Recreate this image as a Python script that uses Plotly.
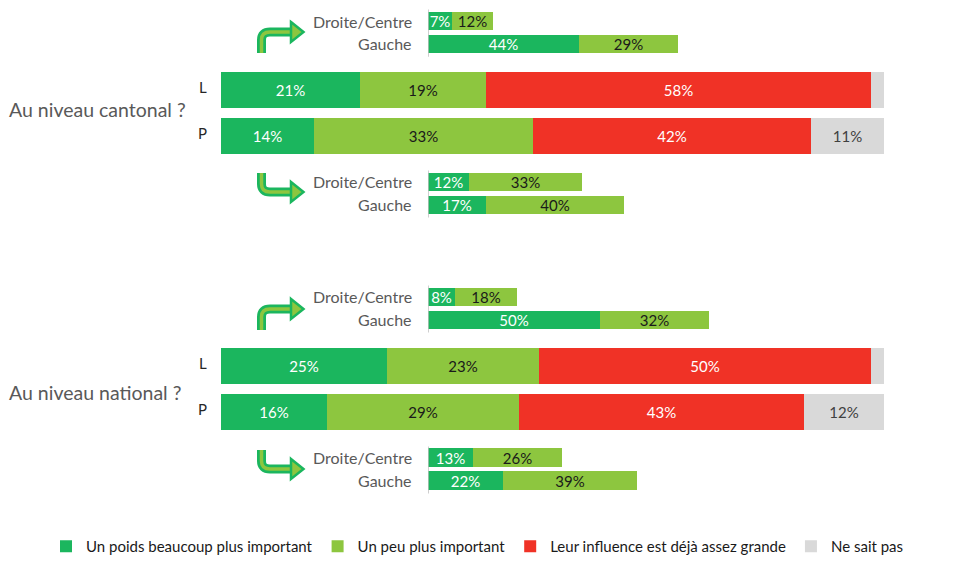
import plotly.graph_objects as go

# ---- data ----
series_names = ["Un poids beaucoup plus important", "Un peu plus important",
                "Leur influence est déjà assez grande", "Ne sait pas"]
main_labels = ["L", "P", "L", "P"]
# per main row: [beaucoup, un peu, déjà assez, ne sait pas]
cantonal_L = [21, 19, 58, 2]
cantonal_P = [14, 33, 42, 11]
national_L = [25, 23, 50, 2]
national_P = [16, 29, 43, 12]

sub_labels = ["Droite/Centre", "Gauche"] * 4
# per sub row: [beaucoup, un peu]
cantonal_top_droite = [7, 12]
cantonal_top_gauche = [44, 29]
cantonal_bot_droite = [12, 33]
cantonal_bot_gauche = [17, 40]
national_top_droite = [8, 18]
national_top_gauche = [50, 32]
national_bot_droite = [13, 26]
national_bot_gauche = [22, 39]

section_labels = ["Au niveau cantonal ?", "Au niveau national ?"]

# ---- layout slots (rows of a 23px grid) ----
main_rows = [cantonal_L, cantonal_P, national_L, national_P]
main_slots = [3, 5, 15, 17]
sub_rows = [cantonal_top_droite, cantonal_top_gauche, cantonal_bot_droite, cantonal_bot_gauche,
            national_top_droite, national_top_gauche, national_bot_droite, national_bot_gauche]
sub_slots = [0, 1, 7, 8, 12, 13, 19, 20]

colors = ["#1BB65E", "#8DC63F", "#F03226", "#D9D9D9"]
text_colors = ["white", "#1a1a1a", "white", "#404040"]
FONT = "Lato"
GREY = "#595959"

fig = go.Figure()

for i, name in enumerate(series_names):
    vals = [row[i] for row in main_rows]
    fig.add_trace(go.Bar(
        x=vals, y=main_slots, orientation="h", name=name,
        marker=dict(color=colors[i], line=dict(width=0)), width=1.6,
        text=[f"{v}%" if v >= 5 else "" for v in vals],
        textposition="inside", insidetextanchor="middle",
        textfont=dict(color=text_colors[i], size=15, family=FONT),
        hoverinfo="skip", xaxis="x", yaxis="y"))

for i in range(2):
    vals = [row[i] for row in sub_rows]
    fig.add_trace(go.Bar(
        x=vals, y=sub_slots, orientation="h", name=series_names[i],
        marker=dict(color=colors[i], line=dict(width=0)), width=0.82,
        text=[f"{v}%" for v in vals],
        textposition="inside", insidetextanchor="middle",
        textfont=dict(color=text_colors[i], size=15, family=FONT),
        showlegend=False, hoverinfo="skip", xaxis="x2", yaxis="y"))

annotations = []
for lab, s in zip(main_labels, main_slots):
    annotations.append(dict(text=lab, xref="paper", x=0, xanchor="right", xshift=-12,
                            yref="y", y=s - 0.12, showarrow=False,
                            font=dict(size=15, color="#262626", family=FONT)))
for lab, s in zip(sub_labels, sub_slots):
    annotations.append(dict(text=lab, xref="x2", x=0, xanchor="right", xshift=-14,
                            yref="y", y=s, showarrow=False,
                            font=dict(size=16, color=GREY, family=FONT)))
for lab, s in zip(section_labels, [3.87, 16.15]):
    annotations.append(dict(text=lab, xref="paper", x=-214 / 663, xanchor="left",
                            yref="y", y=s, showarrow=False,
                            font=dict(size=19.5, color=GREY, family=FONT)))

# decorative arrows + sub-bar axis lines
shapes = []
px = 6.63  # px per % on main axis


def ax(p):
    return (p - 221) / px


def sl(p):
    return (p - 21) / 23


def arrow(up, y0):
    # y0: pixel of the arrow's horizontal stroke
    x_stem = ax(261.5)
    x_end = ax(292)
    if up:
        y_tail = y0 + 21
        y_turn = y0 + 8
    else:
        y_tail = y0 - 19
        y_turn = y0 - 8
    d = (f"M{x_stem},{sl(y_tail)} L{x_stem},{sl(y_turn)} "
         f"Q{x_stem},{sl(y0)} {ax(270)},{sl(y0)} L{x_end},{sl(y0)}")
    head = (f"M{ax(291)},{sl(y0 - 10)} L{ax(303.5)},{sl(y0)} "
            f"L{ax(291)},{sl(y0 + 10)} Z")
    return [
        dict(type="path", path=d, xref="x", yref="y", line=dict(color="#1BB65E", width=9)),
        dict(type="path", path=d, xref="x", yref="y", line=dict(color="#8DC63F", width=3.5)),
        dict(type="path", path=head, xref="x", yref="y", fillcolor="#8DC63F",
             line=dict(color="#1BB65E", width=2.5)),
    ]


shapes += arrow(True, 32)
shapes += arrow(False, 192)
shapes += arrow(True, 309)
shapes += arrow(False, 469)

for a, b in [(0, 1), (7, 8), (12, 13), (19, 20)]:
    shapes.append(dict(type="line", xref="x2", yref="y", x0=0, x1=0,
                       y0=a - 0.5, y1=b + 0.55, line=dict(color="#BFBFBF", width=1.5)))

fig.update_layout(
    width=978, height=563,
    margin=dict(l=221, r=94, t=0, b=43),
    plot_bgcolor="rgba(0,0,0,0)", paper_bgcolor="white",
    barmode="stack", bargap=0,
    xaxis=dict(domain=[0, 1], range=[0, 100], visible=False, fixedrange=True),
    xaxis2=dict(domain=[207 / 663, 1], range=[0, 456 / 3.43], anchor="y",
                visible=False, fixedrange=True),
    yaxis=dict(range=[21.7, -0.913], visible=False, fixedrange=True),
    uniformtext=dict(minsize=15, mode="show"),
    legend=dict(orientation="h", x=-175 / 663, xanchor="left", y=-27 / 520,
                yanchor="middle", traceorder="normal",
                font=dict(size=15, color="#1a1a1a", family=FONT),
                itemclick=False, itemdoubleclick=False, tracegroupgap=0),
    annotations=annotations,
    shapes=shapes,
    font=dict(family=FONT),
    showlegend=True,
)

fig.write_html("out.html", config={"displayModeBar": False},
               post_script="document.body.style.margin='0';")
